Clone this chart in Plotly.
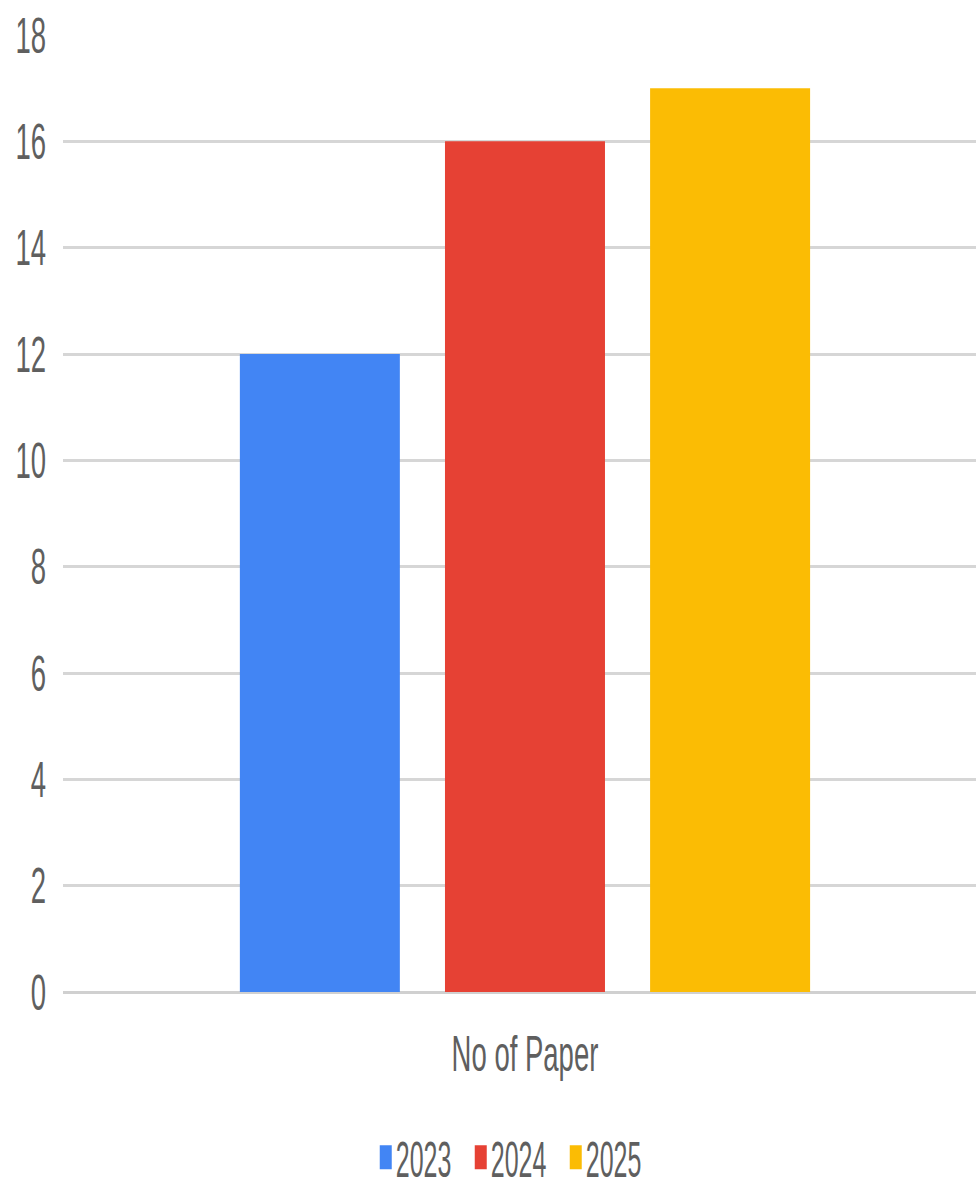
import plotly.graph_objects as go

categories = ["No of Paper"]
years = ["2023", "2024", "2025"]
papers_2023 = [12]
papers_2024 = [16]
papers_2025 = [17]
colors = ["#4285F4", "#E64134", "#FBBC04"]
y_ticks = [0, 2, 4, 6, 8, 10, 12, 14, 16, 18]

FONT = "Liberation Sans, Arial, sans-serif"
TEXT = "#5f5f5f"

fig = go.Figure()
for name, vals, col in zip(years, [papers_2023, papers_2024, papers_2025], colors):
    fig.add_trace(go.Bar(x=categories, y=vals, name=name, marker_color=col,
                         marker_line_width=0))

fig.update_layout(
    width=976, height=1189,
    margin=dict(l=63, r=0, t=35, b=197, autoexpand=False),
    paper_bgcolor="white", plot_bgcolor="white",
    barmode="group", bargap=0.326, bargroupgap=0.22,
    font=dict(family=FONT, color=TEXT, size=50),
    showlegend=True,
    legend=dict(orientation="h", x=0.3316, xanchor="left", y=-0.1252, yanchor="top",
                font=dict(size=25, color=TEXT, family=FONT),
                entrywidth=50, entrywidthmode="pixels", tracegroupgap=0),
)
fig.update_xaxes(range=[-0.506, 0.494], showgrid=False, showline=False, zeroline=False,
                 ticks="", ticklabelstandoff=28, automargin=False,
                 tickfont=dict(size=50, color=TEXT, family=FONT))
fig.update_yaxes(range=[0, 18], tickvals=y_ticks, showgrid=True, gridcolor="#d6d6d6",
                 gridwidth=3, zeroline=True, zerolinecolor="#d0d0d0", zerolinewidth=3,
                 showline=False, ticks="", ticklabelstandoff=16, automargin=False,
                 tickfont=dict(size=50, color=TEXT, family=FONT))

# Narrow lettering: squeeze axis labels horizontally about their anchor,
# stretch the legend vertically so its swatches come out as tall bars,
# and pull legend labels closer to their swatches.
post = """
var gd = document.getElementById('{plot_id}');
gd.querySelectorAll('.xtick text, .ytick text').forEach(function (t) {
  var x = parseFloat(t.getAttribute('x')) || 0;
  var old = t.getAttribute('transform') || '';
  t.setAttribute('transform', old + ' translate(' + x + ',0) scale(0.55,1) translate(' + (-x) + ',0)');
});
gd.querySelectorAll('g.legend text.legendtext').forEach(function (t) {
  var old = t.getAttribute('transform') || '';
  t.setAttribute('transform', old + ' translate(-10,0)');
});
var lg = gd.querySelector('g.legend');
if (lg) { lg.setAttribute('transform', (lg.getAttribute('transform') || '') + ' scale(1,2)'); }
"""

fig.write_html("out.html", post_script=post)
